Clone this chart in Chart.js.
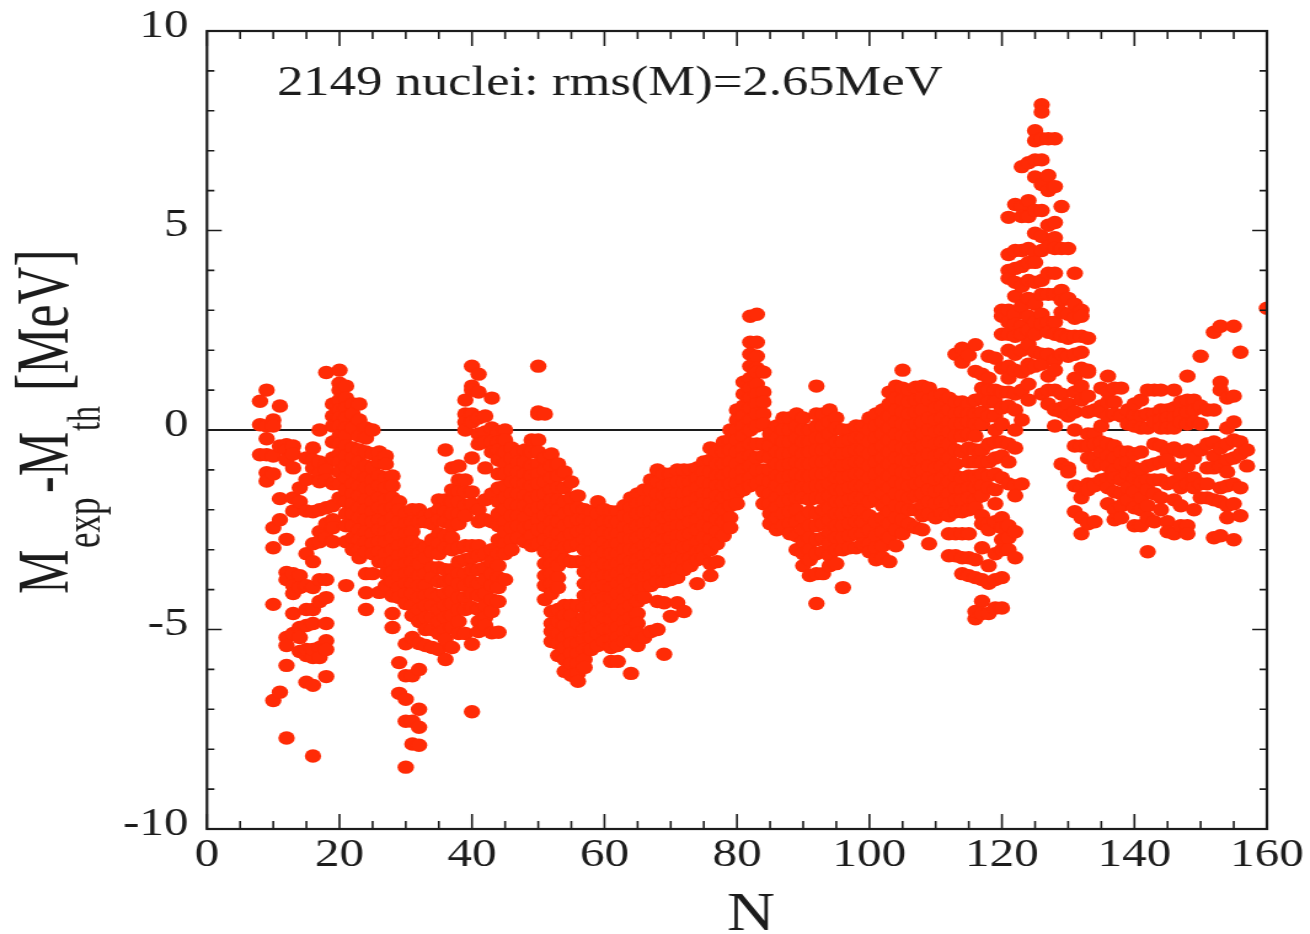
<!DOCTYPE html>
<html>
<head>
<meta charset="utf-8">
<title>Mass residuals</title>
<script src="https://cdn.jsdelivr.net/npm/chart.js@4"></script>
<style>
  html, body { margin: 0; padding: 0; background: #fff; overflow: hidden; }
  #wrap { width: 1065px; height: 934px; transform: scaleX(1.23); transform-origin: 0 0; }
</style>
</head>
<body>
<div id="wrap"><canvas id="chart" width="1065" height="934"></canvas></div>
<script>
// neutron numbers and residuals, one row per N
const nLight = [8,9,10,11,12,13,14,15,16,17,18,19,20,21,22,23,24,25,26,27,28,29,30,31,32,33,34,35,36,37,38,39,40,41,42,43,44];
const resLight = [
  [.72,.13,-.62],
  [1.0,.1,-.22,-.62,-1.07,-1.28],
  [.25,.1,-.65,-1.1,-2.45,-2.95,-4.37,-6.78],
  [.6,-.4,-1.72,-2.25,-6.57],
  [-.37,-.5,-.75,-2.74,-3.57,-3.75,-5.2,-5.4,-5.9,-7.72],
  [-.4,-.6,-.95,-2.03,-1.7,-3.6,-3.9,-4.1,-4.6,-5.1],
  [-1.45,-1.8,-3.65,-3.95,-4.95,-5.55,-5.2],
  [-.7,-1.24,-2.03,-3.1,-3.9,-4.5,-4.9,-5.65,-6.32,-5.5],
  [-.45,-.75,-.95,-2.05,-2.85,-3.3,-3.95,-4.5,-4.85,-5.7,-5.5,-6.4,-8.17],
  [0,-.8,-1.1,-1.3,-2.0,-2.55,-2.8,-3.75,-4.3,-5.45,-5.7],
  [1.44,-.85,-1.0,-1.25,-1.95,-2.7,-2.35,-3.75,-4.2,-4.85,-5.28,-6.18,-5.5],
  [.65,.35,.1,-.3,-.7,-1.35,-1.9,-2.25,-2.45,-2.8],
  [1.5,1.17,1.0,.75,.5,.3,.1,-.15,-.35,-.6,-.8,-1.05,-1.35,-1.7],
  [1.1,.8,.55,.3,.05,-.15,-.4,-.65,-.9,-1.2,-1.5,-1.8,-2.1,-2.4,-2.8,-3.9],
  [.65,.4,.05,-.45,-.7,-1.0,-1.35,-1.6,-1.85,-2.1,-2.4,-2.7,-3.0],
  [.65,.25,-.15,-.5,-.8,-1.1,-1.4,-1.65,-1.95,-2.2,-2.5,-2.75,-3.0,-3.2],
  [.05,-.2,-.55,-.9,-1.2,-1.45,-1.75,-2.0,-2.25,-2.55,-2.8,-3.05,-3.6,-4.08,-4.5],
  [0,-.6,-.95,-1.25,-1.5,-1.8,-2.05,-2.3,-2.6,-2.85,-3.1,-3.6],
  [-.55,-.8,-1.15,-1.4,-1.7,-1.95,-2.25,-2.5,-2.8,-3.05,-3.3,-4.07],
  [-.65,-.85,-1.2,-1.45,-1.75,-2.0,-2.3,-2.55,-2.8,-3.1,-3.35,-3.6,-3.9],
  [-1.15,-1.4,-1.7,-1.95,-2.2,-2.45,-2.7,-3,-3.3,-3.55,-3.8,-4.16,-4.6,-4.95],
  [-1.8,-2.0,-2.3,-2.6,-2.9,-3.15,-3.4,-3.65,-3.95,-4.2,-5.83,-6.6],
  [-2.1,-2.35,-2.6,-2.85,-3.1,-3.35,-3.6,-3.85,-4.1,-4.35,-5.36,-6.16,-6.75,-7.3,-8.45],
  [-2.0,-2.3,-2.55,-2.8,-3.05,-3.3,-3.55,-3.85,-4.1,-4.4,-4.65,-5.2,-6.16,-7.3,-7.87],
  [-2.0,-2.3,-2.9,-3.1,-3.35,-3.65,-3.9,-4.2,-4.5,-4.8,-5.35,-6.0,-7.0,-7.45,-7.9],
  [-2.15,-2.3,-2.95,-3.2,-3.6,-3.9,-4.15,-4.4,-4.7,-5.0,-5.4],
  [-2.1,-2.35,-2.75,-3.05,-3.45,-3.7,-4.1,-4.4,-4.7,-5.0,-5.45],
  [-1.75,-2.0,-2.25,-2.6,-2.85,-3.1,-3.45,-3.8,-4.15,-4.5,-4.8,-5.1,-5.5],
  [-.5,-1.75,-2.05,-2.3,-2.65,-2.95,-3.5,-3.8,-4.1,-4.4,-4.7,-5.0,-5.25,-5.75],
  [-.95,-1.5,-1.8,-2.1,-2.4,-2.7,-3.0,-3.5,-3.75,-4.05,-4.35,-4.65,-4.95,-5.45],
  [-.9,-1.25,-1.55,-1.8,-2.1,-2.35,-2.95,-3.3,-3.6,-3.85,-4.2,-4.5,-4.8,-5.1],
  [.75,.4,.2,0,-1.25,-1.55,-1.9,-2.15,-2.9,-3.25,-3.6,-3.9,-4.2,-4.5,-5.1],
  [1.6,1.1,1.0,.4,.2,-.7,-1.55,-1.85,-2.9,-3.2,-3.5,-3.8,-4.1,-4.45,-5.37,-7.06],
  [1.4,.95,.3,-.1,-.35,-2.0,-2.3,-2.9,-3.15,-3.5,-3.85,-4.15,-4.5,-4.8,-5.05],
  [.35,-.05,-.3,-.95,-1.75,-2.25,-3.1,-3.45,-3.75,-4.1,-4.4,-4.7,-4.9],
  [.8,.05,-.3,-.55,-1.6,-2.3,-3.0,-3.3,-3.6,-3.9,-4.25,-4.55,-5.08],
  [-.05,-.3,-.5,-.75,-1.1,-1.45,-1.8,-2.1,-2.4,-2.75,-3.1,-3.4,-3.7,-3.95,-4.3,-5.07]
];

const nMid = [45,46,47,48,49,50,51,52,53,54,55,56,57,58,59,60,61,62,63,64,65,66,67,68,69,70,71,72,73,74,75,76,77,78,79,80,81,82,83,84];
const resMid = [
  [0,-.25,-.55,-.85,-1.1,-1.4,-1.7,-2.0,-2.3,-2.55,-2.85,-3.1,-3.75],
  [-.45,-.7,-1.0,-1.3,-1.6,-1.85,-2.15,-2.45,-2.75,-3.0],
  [-.55,-.8,-1.05,-1.3,-1.6,-1.9,-2.15,-2.4,-2.7],
  [-.5,-.8,-1.1,-1.35,-1.65,-1.9,-2.2,-2.45,-2.8],
  [-.25,-.55,-.9,-1.15,-1.4,-1.7,-2.0,-2.4,-2.65,-2.9],
  [1.6,.45,.4,-.25,-.55,-.85,-1.1,-1.35,-1.65,-1.95,-2.25,-2.5,-2.85],
  [.4,-.7,-1.0,-1.3,-1.6,-1.9,-2.15,-2.45,-2.75,-3.05,-3.35,-3.65,-3.9,-4.25],
  [-.6,-.9,-1.2,-1.5,-1.75,-2,-2.3,-2.55,-2.85,-3.15,-3.35,-3.6,-3.85,-4.1,-4.55,-4.85,-5.05,-5.3],
  [-.85,-1.15,-1.45,-1.75,-2.0,-2.3,-2.6,-2.9,-3.15,-3.4,-3.7,-3.95,-4.5,-4.8,-5.1,-5.35,-5.65],
  [-1.05,-1.45,-1.8,-2.1,-2.4,-2.7,-2.95,-3.25,-4.4,-4.65,-4.9,-5.2,-5.45,-5.75,-6.05],
  [-1.3,-1.7,-2,-2.3,-2.6,-2.9,-3.3,-4.4,-4.65,-5.1,-5.35,-5.6,-5.85,-6.15],
  [-1.65,-1.95,-2.25,-2.55,-2.85,-3.3,-4.4,-4.85,-5.35,-5.6,-5.85,-6.1,-6.3],
  [-2,-2.25,-2.5,-2.75,-3.0,-3.3,-3.55,-3.85,-4.15,-4.45,-4.7,-5,-5.25,-5.5,-5.75,-5.95],
  [-2.05,-2.3,-2.55,-2.8,-3.05,-3.3,-3.6,-3.9,-4.15,-4.45,-4.7,-4.95,-5.2,-5.5],
  [-1.8,-2.1,-2.4,-2.65,-2.95,-3.2,-3.45,-3.7,-3.95,-4.25,-4.55,-4.8,-5.1,-5.4],
  [-2,-2.3,-2.55,-2.8,-3.05,-3.35,-3.65,-3.9,-4.2,-4.45,-4.7,-5.0,-5.3],
  [-2.05,-2.3,-2.6,-2.9,-3.1,-3.4,-3.65,-3.95,-4.2,-4.5,-4.75,-5.0,-5.25,-5.45,-5.8],
  [-2.05,-2.3,-2.6,-2.85,-3.1,-3.35,-3.6,-3.85,-4.1,-4.4,-4.65,-4.95,-5.2,-5.4,-5.8],
  [-1.9,-2.15,-2.45,-2.7,-3,-3.25,-3.5,-3.75,-4,-4.25,-4.5,-4.8,-5.05,-5.3],
  [-1.7,-1.95,-2.2,-2.5,-2.75,-3,-3.3,-3.55,-3.85,-4.1,-4.4,-4.7,-5,-5.3,-6.1],
  [-1.6,-1.85,-2.1,-2.4,-2.7,-3,-3.25,-3.5,-3.75,-4,-4.3,-4.6,-4.85,-5.1,-5.4],
  [-1.5,-1.8,-2.05,-2.35,-2.6,-2.9,-3.15,-3.4,-3.7,-3.95,-4.2,-5.2],
  [-1.25,-1.5,-1.8,-2.05,-2.3,-2.6,-2.85,-3.1,-3.4,-3.65,-3.9,-5.05],
  [-1.0,-1.3,-1.6,-1.9,-2.15,-2.4,-2.7,-2.95,-3.25,-3.55,-3.8,-4.3,-5.0],
  [-1.1,-1.4,-1.65,-1.95,-2.2,-2.5,-2.75,-3,-3.25,-3.55,-3.8,-4.33,-5.62],
  [-1.1,-1.35,-1.6,-1.85,-2.15,-2.45,-2.7,-3,-3.25,-3.55,-3.75,-4.67],
  [-1.0,-1.3,-1.6,-1.85,-2.15,-2.4,-2.65,-2.9,-3.2,-3.45,-3.7,-4.33],
  [-1.0,-1.3,-1.6,-1.85,-2.1,-2.4,-2.65,-2.95,-3.25,-3.5,-4.55],
  [-1.0,-1.3,-1.55,-1.8,-2.05,-2.3,-2.6,-2.9,-3.2,-3.4],
  [-.95,-1.2,-1.45,-1.7,-1.95,-2.25,-2.5,-2.8,-3.05,-3.25,-3.85],
  [-.8,-1.05,-1.3,-1.6,-1.85,-2.1,-2.4,-2.7,-3,-3.2],
  [-.45,-.75,-1.05,-1.35,-1.6,-1.85,-2.15,-2.45,-2.75,-3.0,-3.35,-3.65],
  [-.55,-.85,-1.15,-1.4,-1.65,-1.95,-2.25,-2.55,-2.85,-3.3],
  [-.3,-.55,-.85,-1.15,-1.4,-1.7,-2,-2.3,-2.65],
  [0,-.25,-.5,-.8,-1.05,-1.35,-1.65,-1.9,-2.2,-2.45],
  [.5,.25,0,-.25,-.55,-.85,-1.1,-1.35,-1.6,-1.85],
  [1.2,.9,.6,.35,.1,-.15,-.45,-.7,-1.0,-1.25,-1.5],
  [2.85,2.2,1.9,1.6,1.3,1.05,.8,.55,.25,0,-.35,-.65,-.9,-1.2,-1.4],
  [2.9,2.2,1.85,1.55,1.45,1.15,.9,.65,.4,.1,-.35,-.7,-1.0,-1.35],
  [1.45,.95,.7,.4,.15,-.35,-.65,-1,-1.25,-1.55,-1.85]
];

const nHeavy = [85,86,87,88,89,90,91,92,93,94,95,96,97,98,99,100,101,102,103,104,105,106,107,108,109,110,111,112,113,114,115,116,117,118,119,120];
const resHeavy = [
  [-.1,-.4,-.7,-1,-1.3,-1.6,-1.85,-2.1,-2.35],
  [.1,-.2,-.55,-.85,-1.15,-1.4,-1.7,-1.95,-2.2,-2.5],
  [.3,0,-.3,-.6,-.9,-1.2,-1.5,-1.8,-2.1,-2.4],
  [.3,0,-.3,-.6,-.85,-1.15,-1.45,-1.75,-2.05,-2.35,-2.6],
  [.4,.1,-.2,-.5,-.8,-1.1,-1.4,-1.7,-2,-2.3,-2.65,-3.0],
  [.3,0,-.3,-.6,-.85,-1.15,-1.45,-1.7,-2.2,-2.5,-2.8,-3.1,-3.4],
  [0,-.3,-.55,-.85,-1.15,-1.45,-1.75,-2.05,-2.4,-2.7,-3,-3.25,-3.65],
  [1.1,.4,.1,-.2,-.5,-.8,-1.1,-1.4,-1.7,-2.1,-2.4,-2.75,-3.1,-3.6,-4.35],
  [.4,.1,-.2,-.5,-.8,-1.1,-1.4,-1.7,-2,-2.35,-2.7,-3.05,-3.6],
  [.5,.2,-.1,-.45,-.75,-1.05,-1.35,-1.65,-1.95,-2.25,-2.55,-2.85,-3.15,-3.4],
  [.3,.05,-.3,-.6,-.9,-1.2,-1.5,-1.8,-2.1,-2.4,-2.7,-3.0,-3.35],
  [0,-.3,-.6,-.9,-1.2,-1.5,-1.8,-2.1,-2.4,-2.7,-3,-3.95],
  [0,-.25,-.55,-.85,-1.15,-1.45,-1.75,-2.05,-2.35,-2.65,-2.95],
  [.1,-.2,-.5,-.8,-1.1,-1.4,-1.7,-2,-2.3,-2.6,-2.95],
  [.1,-.2,-.5,-.8,-1.1,-1.4,-1.7,-2,-2.3,-2.6,-2.85],
  [.3,0,-.3,-.6,-.9,-1.2,-1.5,-1.8,-2.15,-2.5,-2.85,-3.05],
  [.4,.1,-.2,-.5,-.8,-1.1,-1.4,-1.7,-2.3,-2.65,-2.95,-3.25],
  [.5,.2,-.1,-.4,-.7,-1,-1.3,-1.6,-1.9,-2.2,-2.55,-2.9,-3.2],
  [.95,.65,.35,.05,-.25,-.55,-.85,-1.15,-1.45,-1.75,-2.05,-2.35,-2.7,-3.3],
  [1.1,.8,.5,.2,-.1,-.4,-.7,-1,-1.3,-1.6,-1.9,-2.2,-2.5,-2.9],
  [1.5,1.05,.75,.45,.15,-.15,-.45,-.75,-1.05,-1.35,-1.65,-1.95,-2.25,-2.6],
  [1.0,.7,.4,.1,-.2,-.5,-.8,-1.1,-1.4,-1.7,-2.0,-2.35],
  [1.07,.75,.45,.15,-.15,-.45,-.75,-1.05,-1.35,-1.65,-2.0,-2.45],
  [1.1,.8,.5,.2,-.1,-.4,-.7,-1,-1.3,-1.6,-1.9,-2.15,-2.5],
  [1.05,.75,.3,0,-.3,-.6,-.9,-1.2,-1.5,-1.8,-2.1,-2.85],
  [.85,.55,.25,-.05,-.35,-.65,-.95,-1.25,-1.55,-1.85,-2.2],
  [.9,.6,.3,0,-.3,-.6,-.9,-1.2,-1.5,-1.8,-2.1],
  [.8,.5,.2,-.05,-.35,-.7,-1.0,-1.3,-1.6,-1.85,-2.15,-2.6,-3.15],
  [1.9,.7,.4,.15,-.15,-.5,-.85,-1.15,-1.45,-1.75,-2.05,-2.6,-3.15],
  [2.05,1.7,.7,.45,.15,-.15,-.55,-1.2,-1.5,-1.75,-2.05,-2.6,-3.2,-3.6],
  [1.87,.65,.4,.2,-.1,-.45,-.8,-1.15,-1.45,-1.7,-2.0,-2.6,-3.2,-3.65],
  [2.14,1.47,.75,.4,.15,-.15,-.5,-.8,-1.15,-1.45,-1.75,-1.95,-3.25,-3.7,-4.73,-4.55],
  [1.4,1.05,.8,.45,.15,-.5,-.8,-1.1,-1.4,-1.65,-2.15,-2.35,-2.95,-3.75,-4.29,-4.6],
  [1.85,1.3,1.0,.7,.35,-.35,-.8,-1.15,-1.45,-2.35,-2.5,-3.4,-3.84,-4.6],
  [1.8,1.0,.7,.35,0,-.3,-.7,-1.1,-1.5,-1.85,-2.3,-3.1,-3.75,-4.46],
  [3.0,2.85,2.4,1.55,.95,.55,.15,-.3,-.65,-1.2,-2.2,-2.45,-2.75,-3.0,-3.7,-4.46]
];

const nPeak = [121,122,123,124,125,126,127,128,129,130,131,132,133,134,135,136,137,138,139,140,141,142,143,144,145,146,147,148,149,150,151,152,153,154,155,156,157,160];
const resPeak = [
  [5.33,4.4,4.0,3.8,3.0,2.7,2.4,2.0,1.6,1.3,.95,.6,-.35,-.8,-1.35,-2.7,-3.0,-2.4],
  [5.65,4.5,4.05,3.7,3.35,2.9,2.65,2.35,1.9,1.5,.9,.5,0,-.45,-1.4,-1.65,-2.55,-3.2],
  [6.6,5.6,5.35,4.5,4.1,3.6,3.1,2.6,2.4,2.0,1.45,1.0,.25,-1.35],
  [6.7,5.75,5.35,4.55,4.2,3.75,3.3,2.85,2.5,2.15,1.65,1.55,1.15,.75],
  [7.5,7.25,6.77,6.34,5.5,4.93,4.45,4.2,3.7,3.15,2.7,2.4,1.95,1.6],
  [8.15,7.97,7.3,6.77,6.15,5.5,4.85,4.5,3.75,3.4,2.9,2.65,1.9,1.65,.9],
  [7.3,6.38,6.0,5.13,4.6,3.93,3.4,2.7,2.45,1.9,1.35,1.0,.65],
  [7.3,6.1,5.2,4.82,4.55,3.93,3.4,2.7,2.4,1.75,1.5,1.0,.5,.1],
  [5.6,4.55,3.5,3.25,2.95,2.4,2.35,1.9,.9,.55,.45,-.85],
  [4.55,3.3,2.9,2.35,2.3,1.85,.65,.35,-.95,-1.05],
  [3.93,3.15,2.8,2.35,1.9,1.3,.95,.45,0,-.4,-1.4,-2.05],
  [3.0,2.85,2.35,1.95,1.55,1.1,.75,-.4,-1.45,-1.7,-2.2,-2.6],
  [2.3,1.5,1.45,.85,.45,-.1,-.4,-.7,-1.35,-1.5,-2.35],
  [.5,-.1,-.35,-.7,-.9,-1.35,-1.4,-2.3],
  [1.05,.6,.45,.1,-.3,-.55,-.85,-1.25],
  [1.35,.95,.7,.35,-.35,-.65,-.9,-1.2,-1.45,-1.85],
  [1.05,.7,.4,-.4,-.7,-1.0,-1.2,-1.55,-2.0,-2.25],
  [1.05,.35,-.55,-.85,-1.25,-1.6,-1.9,-2.2],
  [.5,.15,-.55,-.8,-1.1,-1.45,-1.75],
  [.65,.35,.1,-.6,-.95,-1.2,-1.55,-1.95,-2.4],
  [.75,.35,.05,-.55,-1.0,-1.3,-1.7,-2.0,-2.4],
  [1.0,.4,.05,-.9,-1.25,-1.5,-1.9,-2.2,-3.05],
  [1.0,.4,.2,-.35,-.85,-1.25,-1.6,-2.3],
  [1.0,.5,.25,.05,-.4,-.8,-1.25,-1.7,-2.0],
  [.5,.3,.05,-.55,-.75,-1.35,-2.3,-2.55],
  [1.0,.55,.3,.05,-.45,-.95,-1.3,-1.75,-2.6],
  [.7,.4,.2,-.55,-1.1,-1.45,-1.9,-2.4],
  [1.35,.75,.45,.15,-.5,-.9,-1.35,-2.4,-2.6],
  [.75,.5,.2,-.7,-1.2,-1.45,-2.0],
  [1.85,.6,.15,-.5,-1.35,-1.7],
  [.5,-.35,-.95,-1.35,-1.7],
  [2.45,.5,-.3,-.65,-.95,-1.75,-2.7],
  [2.6,1.2,1.0,-.45,-.9,-1.45,-1.8,-2.65],
  [.8,.05,-.35,-.75,-1.05,-1.4,-1.9,-2.2],
  [2.6,.85,.2,-.25,-.7,-1.35,-1.85,-2.75],
  [1.95,-.3,-.6,-1.45,-2.15],
  [-.5,-.9],
  [3.05]
];

const xMajorTicks = [0,20,40,60,80,100,120,140,160];
const xMinorTicks = [5,10,15,25,30,35,45,50,55,65,70,75,85,90,95,105,110,115,125,130,135,145,150,155];
const yMajorTicks = [-10,-5,0,5,10];
const yMinorTicks = [-9,-8,-7,-6,-4,-3,-2,-1,1,2,3,4,6,7,8,9];

const STRETCH = 1.23; // page is widened by this, so the dots come out as flat ellipses
const serif = '"Liberation Serif", "Times New Roman", serif';
const ink = '#1c1c1c';

function toPoints(ns, rows) {
  const pts = [];
  ns.forEach((n, i) => rows[i].forEach(v => pts.push({ x: n, y: v })));
  return pts;
}

const allPoints = [
  ...toPoints(nLight, resLight),
  ...toPoints(nMid, resMid),
  ...toPoints(nHeavy, resHeavy),
  ...toPoints(nPeak, resPeak)
];

// box with inward ticks on all four sides, plus the hand set texts
const framePlugin = {
  id: 'frame',
  afterDatasetsDraw(chart) {
    const { ctx, chartArea: a, scales: { x, y } } = chart;
    ctx.save();
    ctx.strokeStyle = ink;
    ctx.lineWidth = 2.2;
    ctx.strokeRect(a.left, a.top, a.right - a.left, a.bottom - a.top);
    const vTick = (v, len) => {
      const px = x.getPixelForValue(v);
      ctx.beginPath();
      ctx.moveTo(px, a.bottom); ctx.lineTo(px, a.bottom - len);
      ctx.moveTo(px, a.top); ctx.lineTo(px, a.top + len);
      ctx.stroke();
    };
    const hTick = (v, len) => {
      const py = y.getPixelForValue(v);
      ctx.beginPath();
      ctx.moveTo(a.left, py); ctx.lineTo(a.left + len, py);
      ctx.moveTo(a.right, py); ctx.lineTo(a.right - len, py);
      ctx.stroke();
    };
    ctx.lineWidth = 1.6;
    xMajorTicks.forEach(v => vTick(v, 15));
    xMinorTicks.forEach(v => vTick(v, 8));
    yMajorTicks.forEach(v => hTick(v, 12));
    yMinorTicks.forEach(v => hTick(v, 6));

    ctx.fillStyle = ink;
    ctx.textBaseline = 'alphabetic';
    ctx.textAlign = 'left';
    ctx.font = '42.8px ' + serif;
    ctx.fillText('2149 nuclei: rms(M)=2.65MeV', 277 / STRETCH, 95);
    ctx.textAlign = 'center';
    ctx.font = '54px ' + serif;
    ctx.fillText('N', 751 / STRETCH, 930);

    // rotated axis title with subscripts, each piece placed by hand
    const yTitle = (text, px, py, size) => {
      ctx.save();
      ctx.translate(px / STRETCH, py);
      ctx.rotate(-Math.PI / 2);
      ctx.scale(1, 1.18);
      ctx.textAlign = 'left';
      ctx.font = size + 'px ' + serif;
      ctx.fillText(text, 0, 0);
      ctx.restore();
    };
    yTitle('M', 68, 594, 50);
    yTitle('exp', 100, 548, 35);
    yTitle('-M', 68, 493, 50);
    yTitle('th', 100, 431, 32);
    yTitle('[MeV]', 68, 391, 52);
    ctx.restore();
  }
};

new Chart(document.getElementById('chart'), {
  type: 'scatter',
  data: {
    datasets: [
      {
        label: 'nuclei',
        data: allPoints,
        order: 1,
        backgroundColor: '#ff2b06',
        borderWidth: 0,
        pointRadius: 6.7,
        pointHoverRadius: 6.7
      },
      {
        type: 'line',
        label: 'zero',
        data: [{ x: 0, y: 0 }, { x: 160, y: 0 }],
        order: 2,
        borderColor: ink,
        borderWidth: 1.8,
        pointRadius: 0
      }
    ]
  },
  options: {
    responsive: false,
    animation: false,
    layout: { padding: { top: 31, right: 35, bottom: 0, left: 0 } },
    plugins: { legend: { display: false }, title: { display: false }, tooltip: { enabled: false } },
    scales: {
      x: {
        type: 'linear',
        min: 0,
        max: 160,
        afterFit(scale) { scale.height = 105; },
        grid: { display: false },
        border: { display: false },
        ticks: {
          font: { family: serif, size: 40 },
          color: ink,
          padding: -6,
          maxRotation: 0,
          autoSkip: false,
          stepSize: 20
        }
      },
      y: {
        type: 'linear',
        min: -10,
        max: 10,
        afterFit(scale) {
          scale.width = 207 / STRETCH;
          scale.paddingTop = 0;
          scale.paddingBottom = 0;
        },
        grid: { display: false },
        border: { display: false },
        ticks: {
          // empty second line lifts the number a little above its tick, as in the original
          font: { family: serif, size: 40, lineHeight: 0.25 },
          color: ink,
          padding: 7,
          autoSkip: false,
          stepSize: 5,
          callback: v => [String(v), '']
        }
      }
    }
  },
  plugins: [framePlugin]
});
</script>
</body>
</html>
